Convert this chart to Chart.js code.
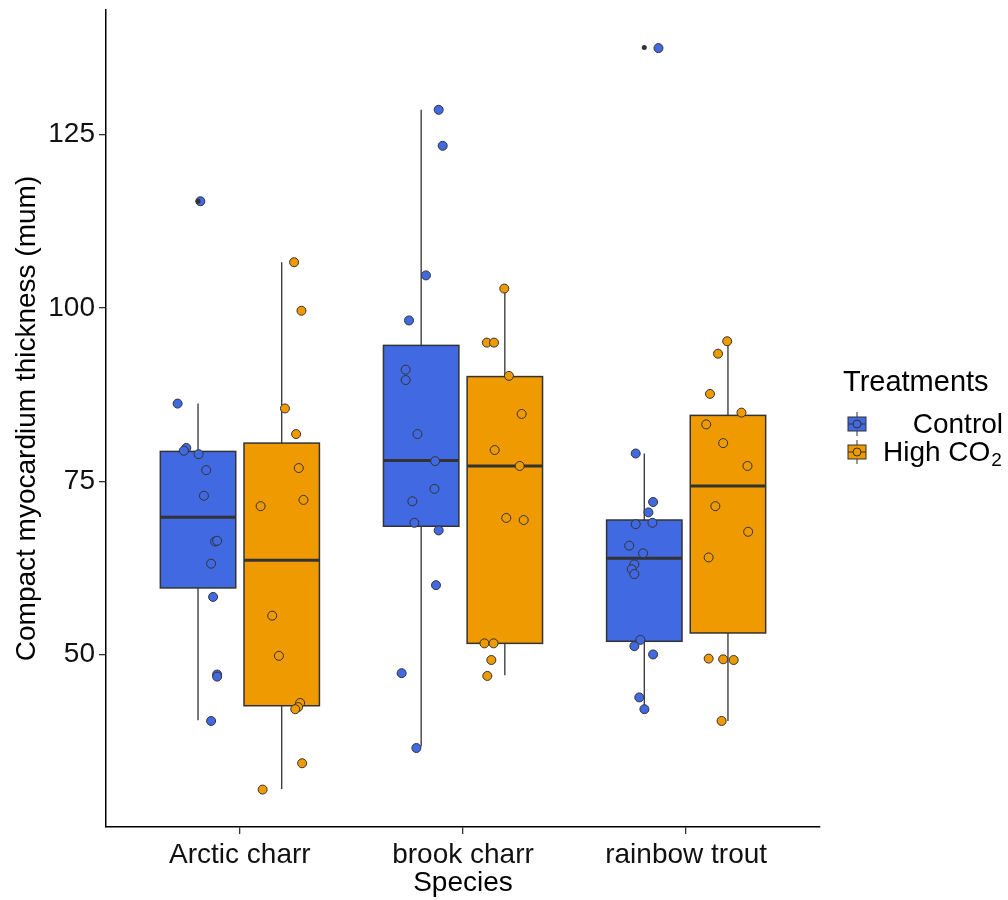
<!DOCTYPE html>
<html>
<head>
<meta charset="utf-8">
<script src="https://cdn.jsdelivr.net/npm/chart.js@4.4.1/dist/chart.umd.min.js"></script>
<style>
  body { margin: 0; background: #fff; }
  #wrap { width: 1008px; height: 900px; }
</style>
</head>
<body>
<div id="wrap"><canvas id="canvas1" width="1008" height="900"></canvas></div>
<script>
// ---------------- data ----------------
var species = ['Arctic charr', 'brook charr', 'rainbow trout'];
var treatments = ['Control', 'High CO2'];
var yTicks = [50, 75, 100, 125];

// jittered observations, one inner array per species
var controlY = [
	[115.4, 86.2, 79.8, 79.4, 78.9, 76.6, 72.9, 66.3, 66.4, 63.1, 58.3, 47.1, 46.8, 40.4],
	[128.6, 123.4, 104.7, 98.2, 91.1, 89.6, 81.8, 77.9, 73.9, 72.1, 69.0, 67.9, 60.0, 47.3, 36.5],
	[137.5, 79.0, 72.0, 70.5, 68.8, 69.0, 65.7, 64.6, 63.0, 62.3, 61.6, 52.1, 51.2, 50.0, 43.8, 42.1]
];
var controlX = [
	[0.823, 0.721, 0.760, 0.749, 0.815, 0.849, 0.839, 0.889, 0.898, 0.871, 0.880, 0.898, 0.898, 0.871],
	[1.891, 1.909, 1.834, 1.758, 1.743, 1.743, 1.796, 1.875, 1.872, 1.773, 1.782, 1.891, 1.879, 1.725, 1.791],
	[2.876, 2.774, 2.852, 2.831, 2.774, 2.849, 2.745, 2.807, 2.768, 2.756, 2.768, 2.795, 2.768, 2.852, 2.790, 2.813]
];
var highY = [
	[106.6, 99.6, 85.5, 81.8, 76.9, 71.4, 72.3, 55.6, 49.8, 43.0, 42.4, 42.1, 34.3, 30.5],
	[102.8, 95.0, 95.0, 90.2, 84.7, 79.5, 77.2, 69.7, 69.4, 51.6, 51.6, 49.2, 46.9],
	[95.2, 93.4, 87.6, 84.9, 83.2, 80.5, 77.2, 71.4, 67.7, 64.0, 49.4, 49.3, 49.2, 40.4]
];
var highX = [
	[1.243, 1.276, 1.202, 1.252, 1.264, 1.093, 1.285, 1.145, 1.175, 1.270, 1.261, 1.248, 1.279, 1.102],
	[2.185, 2.107, 2.139, 2.206, 2.263, 2.142, 2.254, 2.194, 2.272, 2.096, 2.137, 2.127, 2.109],
	[3.184, 3.143, 3.107, 3.248, 3.090, 3.166, 3.275, 3.131, 3.278, 3.101, 3.101, 3.166, 3.213, 3.159]
];

// box statistics per species
var controlLow    = [40.5, 36.7, 42.1];
var controlQ1     = [59.6, 68.5, 51.9];
var controlMedian = [69.8, 78.0, 63.9];
var controlQ3     = [79.3, 94.6, 69.4];
var controlHigh   = [86.2, 128.6, 79.0];
var controlOutliers = [[115.4], [], [137.6]];

var highLow    = [30.6, 47.0, 40.4];
var highQ1     = [42.6, 51.6, 53.1];
var highMedian = [63.6, 77.2, 74.3];
var highQ3     = [80.5, 90.1, 84.5];
var highHigh   = [106.6, 102.8, 95.2];
var highOutliers = [[], [], []];

// ---------------- styling ----------------
var colBlue = '#4169E1';
var colOrange = '#EE9A00';
var colLine = '#333333';
var dodge = 0.1875;
var halfBox = 0.169;

var groups = [
	{ fill: colBlue, off: -dodge, lo: controlLow, q1: controlQ1, med: controlMedian, q3: controlQ3, hi: controlHigh, out: controlOutliers },
	{ fill: colOrange, off: dodge, lo: highLow, q1: highQ1, med: highMedian, q3: highQ3, hi: highHigh, out: highOutliers }
];

function pointsOf(xs, ys) {
	var arr = [];
	for (var s = 0; s < ys.length; s++) {
		for (var j = 0; j < ys[s].length; j++) {
			arr.push({ x: xs[s][j], y: ys[s][j] });
		}
	}
	return arr;
}

var outlierData = [];
groups.forEach(function(g) {
	g.out.forEach(function(list, s) {
		list.forEach(function(v) { outlierData.push({ x: s + 1 + g.off, y: v }); });
	});
});

//--------------------------- boxes (whiskers, box, median) ---------------------------
var boxPlugin = {
	id: 'boxes',
	beforeDatasetsDraw: function(chart) {
		var ctx = chart.ctx;
		var xs = chart.scales.x, ys = chart.scales.y;
		ctx.save();
		groups.forEach(function(g) {
			for (var s = 0; s < species.length; s++) {
				var cx = xs.getPixelForValue(s + 1 + g.off);
				var left = xs.getPixelForValue(s + 1 + g.off - halfBox);
				var right = xs.getPixelForValue(s + 1 + g.off + halfBox);
				var yLo = ys.getPixelForValue(g.lo[s]);
				var yQ1 = ys.getPixelForValue(g.q1[s]);
				var yMed = ys.getPixelForValue(g.med[s]);
				var yQ3 = ys.getPixelForValue(g.q3[s]);
				var yHi = ys.getPixelForValue(g.hi[s]);

				ctx.strokeStyle = colLine;
				ctx.lineWidth = 1.3;
				ctx.beginPath();
				ctx.moveTo(cx, yHi); ctx.lineTo(cx, yQ3);
				ctx.moveTo(cx, yQ1); ctx.lineTo(cx, yLo);
				ctx.stroke();

				ctx.fillStyle = g.fill;
				ctx.fillRect(left, yQ3, right - left, yQ1 - yQ3);
				ctx.lineWidth = 1.5;
				ctx.strokeRect(left, yQ3, right - left, yQ1 - yQ3);

				ctx.lineWidth = 3;
				ctx.beginPath();
				ctx.moveTo(left, yMed); ctx.lineTo(right, yMed);
				ctx.stroke();
			}
		});
		ctx.restore();
	}
};

//--------------------------- legend on the right ---------------------------
var legendPlugin = {
	id: 'sideLegend',
	afterDraw: function(chart) {
		var ctx = chart.ctx;
		ctx.save();
		ctx.fillStyle = '#000';
		ctx.textBaseline = 'middle';
		ctx.font = "29px 'Liberation Sans', Arial, sans-serif";
		ctx.textAlign = 'left';
		ctx.fillText('Treatments', 843, 383);

		var keyY = [424, 452];
		groups.forEach(function(g, i) {
			var cy = keyY[i];
			ctx.strokeStyle = colLine;
			ctx.lineWidth = 1;
			ctx.beginPath();
			ctx.moveTo(857, cy - 12); ctx.lineTo(857, cy + 12);
			ctx.stroke();
			ctx.fillStyle = g.fill;
			ctx.fillRect(848, cy - 7, 18, 14);
			ctx.strokeRect(848, cy - 7, 18, 14);
			ctx.beginPath();
			ctx.moveTo(848, cy); ctx.lineTo(866, cy);
			ctx.stroke();
			ctx.beginPath();
			ctx.arc(857, cy, 4, 0, Math.PI * 2);
			ctx.fill();
			ctx.stroke();
		});

		ctx.fillStyle = '#000';
		ctx.font = "28px 'Liberation Sans', Arial, sans-serif";
		ctx.textAlign = 'right';
		ctx.fillText(treatments[0], 1003, keyY[0] + 1);
		ctx.textAlign = 'left';
		var base = treatments[1].replace(/2$/, '');
		ctx.fillText(base, 883, keyY[1] + 1);
		var w = ctx.measureText(base).width;
		ctx.font = "19px 'Liberation Sans', Arial, sans-serif";
		ctx.fillText('2', 883 + w + 1, keyY[1] + 9);
		ctx.restore();
	}
};

Chart.defaults.font.family = "'Liberation Sans', Arial, sans-serif";
Chart.defaults.font.size = 28;
Chart.defaults.color = '#111';

var ctx = document.getElementById('canvas1').getContext('2d');
window.myChart = new Chart(ctx, {
	type: 'scatter',
	data: {
		datasets: [
			{
				label: 'outliers',
				data: outlierData,
				pointRadius: 2.5,
				backgroundColor: colLine,
				borderWidth: 0
			},
			{
				label: treatments[0],
				data: pointsOf(controlX, controlY),
				pointRadius: 4.5,
				backgroundColor: colBlue,
				borderColor: colLine,
				borderWidth: 1
			},
			{
				label: treatments[1],
				data: pointsOf(highX, highY),
				pointRadius: 4.5,
				backgroundColor: colOrange,
				borderColor: colLine,
				borderWidth: 1
			}
		]
	},
	options: {
		responsive: false,
		animation: false,
		devicePixelRatio: 1,
		events: [],
		layout: { padding: { left: 0, right: 188, top: 10, bottom: 0 } },
		plugins: {
			legend: { display: false },
			tooltip: { enabled: false }
		},
		scales: {
			x: {
				type: 'linear',
				min: 0.4,
				max: 3.6,
				afterBuildTicks: function(scale) {
					scale.ticks = species.map(function(n, i) { return { value: i + 1 }; });
				},
				afterFit: function(scale) {
					scale.height = 73;
					scale.paddingLeft = 0;
					scale.paddingRight = 0;
				},
				ticks: {
					autoSkip: false,
					maxRotation: 0,
					padding: 4,
					color: '#111',
					callback: function(v) { return species[v - 1]; }
				},
				grid: { drawOnChartArea: false, tickLength: 7, color: colLine, lineWidth: 1.3 },
				border: { display: true, color: '#000', width: 1.5 },
				title: { display: true, text: 'Species', color: '#000', padding: { top: 0, bottom: 0 } }
			},
			y: {
				min: 25.1,
				max: 143,
				afterBuildTicks: function(scale) {
					scale.ticks = yTicks.map(function(v) { return { value: v }; });
				},
				afterFit: function(scale) {
					scale.width = 106;
					scale.paddingTop = 0;
					scale.paddingBottom = 0;
				},
				ticks: { padding: 4, color: '#111' },
				grid: { drawOnChartArea: false, tickLength: 7, color: colLine, lineWidth: 1.3 },
				border: { display: true, color: '#000', width: 1.5 },
				title: { display: true, text: 'Compact myocardium thickness (mum)', color: '#000', padding: { top: 10, bottom: 0 } }
			}
		}
	},
	plugins: [boxPlugin, legendPlugin]
});
</script>
</body>
</html>
